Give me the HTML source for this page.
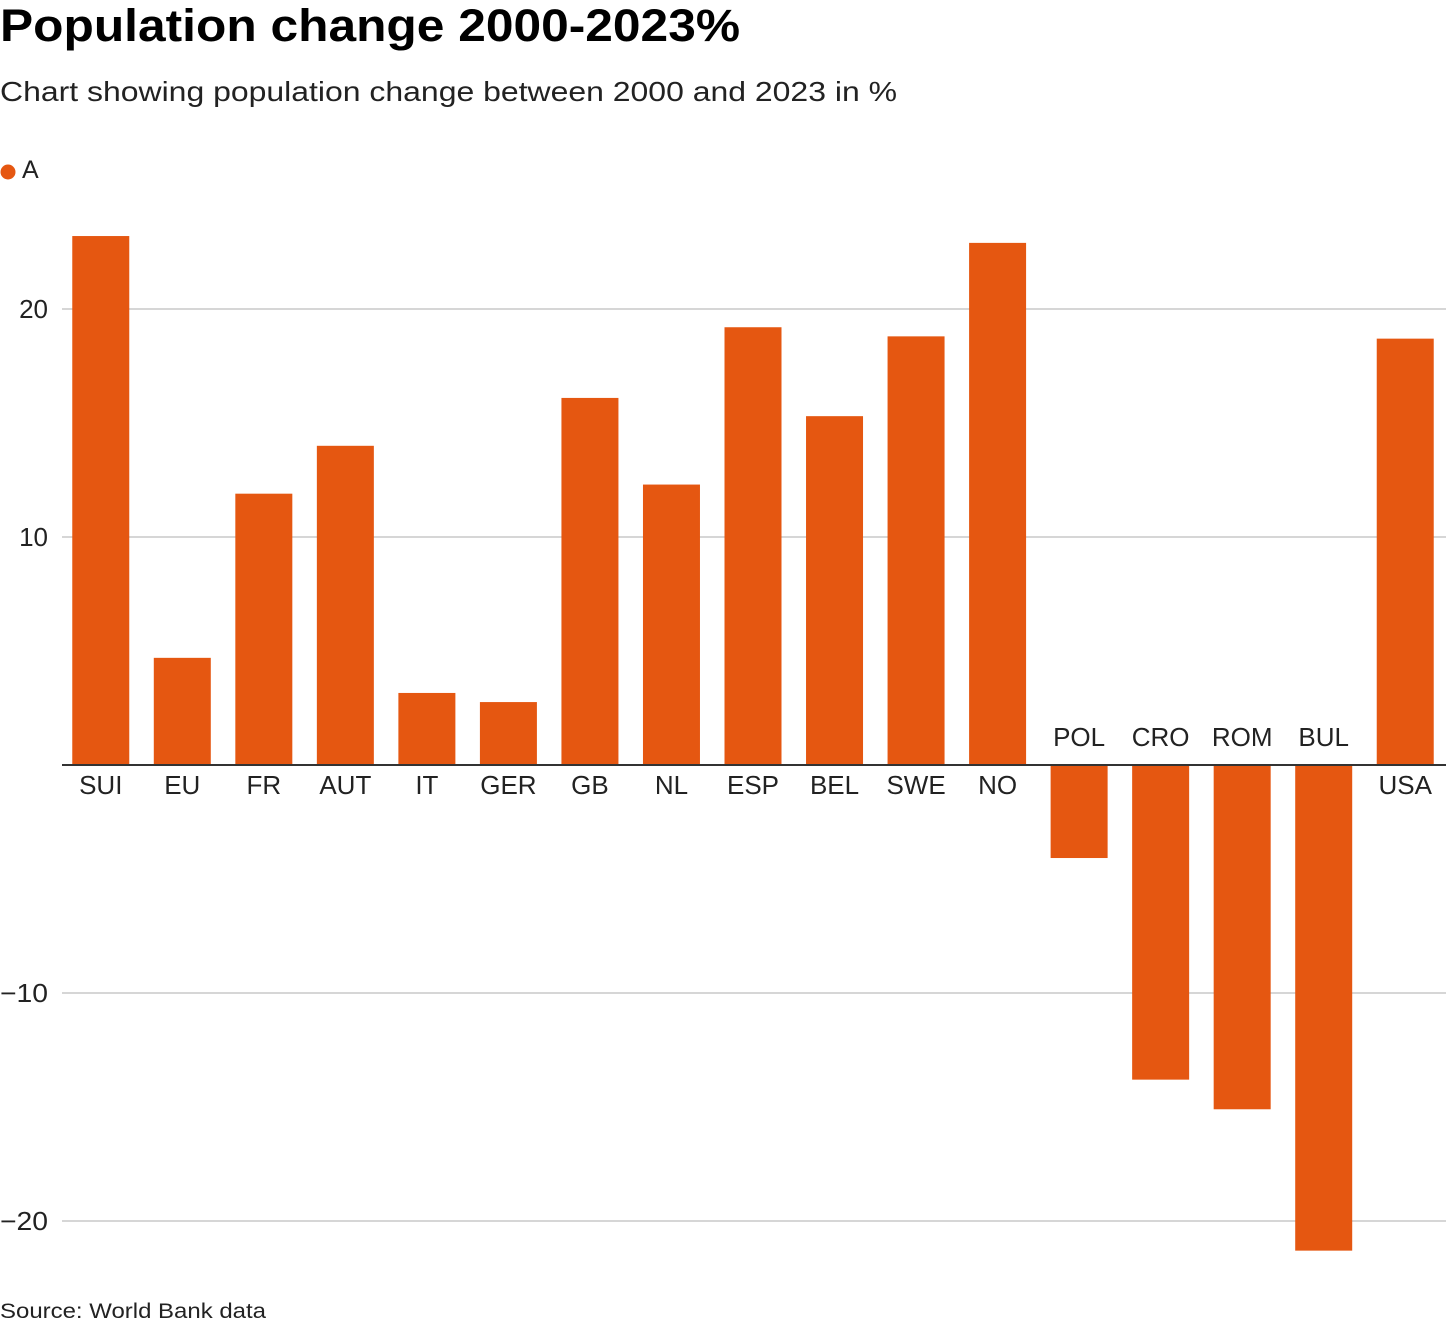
<!DOCTYPE html>
<html><head><meta charset="utf-8"><style>
body{margin:0;width:1446px;height:1328px;background:#fff;font-family:"Liberation Sans",Arial,sans-serif;overflow:hidden}
svg text{font-family:"Liberation Sans",Arial,sans-serif}
</style></head><body>
<svg id="chart" width="1446" height="1328" xmlns="http://www.w3.org/2000/svg">
<text x="0" y="41" font-size="45" font-weight="bold" fill="#000" textLength="740" lengthAdjust="spacingAndGlyphs">Population change 2000-2023%</text>
<text x="0" y="101" font-size="28" fill="#222" textLength="897" lengthAdjust="spacingAndGlyphs">Chart showing population change between 2000 and 2023 in %</text>
<circle cx="8" cy="172" r="7.5" fill="#e55711"/>
<text x="22" y="178" font-size="25" fill="#222">A</text>
<g id="grid"></g><g id="bars"></g><g id="labels"></g>
<text x="0" y="1318" font-size="21" fill="#222" textLength="266" lengthAdjust="spacingAndGlyphs">Source: World Bank data</text>
</svg>
<script>
const categories=["SUI","EU","FR","AUT","IT","GER","GB","NL","ESP","BEL","SWE","NO","POL","CRO","ROM","BUL","USA"];
const values=[23.2,4.7,11.9,14.0,3.16,2.76,16.1,12.3,19.2,15.3,18.8,22.9,-4.08,-13.8,-15.1,-21.3,18.7];
const ticks=[20,10,-10,-20];
const tickLabels=["20","10","\u221210","\u221220"];
const NS="http://www.w3.org/2000/svg";
const x0=60,x1=1446,zeroY=765,pxPerUnit=22.8;
const step=(x1-x0)/categories.length,bw=57;
const y=v=>zeroY-v*pxPerUnit;
const bx=i=>x0+i*step+(step-bw)/2;
function mk(tag,attrs,parent){const e=document.createElementNS(NS,tag);for(const k in attrs)e.setAttribute(k,attrs[k]);document.getElementById(parent).appendChild(e);return e;}
ticks.forEach((t,i)=>{
  const l=mk("line",{x1:62,x2:1446,y1:y(t),y2:y(t),stroke:"#c8c8c8","stroke-width":1.5},"grid");
  
  
  const attrs={x:48,y:y(t)+9,"text-anchor":"end","font-size":26,fill:"#222"};
  if(t<0){attrs.textLength=48;attrs.lengthAdjust="spacingAndGlyphs";}
  const tx=mk("text",attrs,"grid");
  tx.textContent=tickLabels[i];
  
  
});
values.forEach((v,i)=>{
  const r=mk("rect",{x:bx(i),y:Math.min(y(v),zeroY),width:bw,height:Math.abs(y(v)-zeroY),fill:"#e55711"},"bars");
  
  
  const t=mk("text",{x:bx(i)+bw/2,y:v>=0?zeroY+29:zeroY-19,"text-anchor":"middle","font-size":26,fill:"#222"},"labels");
  t.textContent=categories[i];
  
  
});
const z=mk("line",{x1:62,x2:1446,y1:zeroY,y2:zeroY,stroke:"#333","stroke-width":2},"labels");


</script>
</body></html>
